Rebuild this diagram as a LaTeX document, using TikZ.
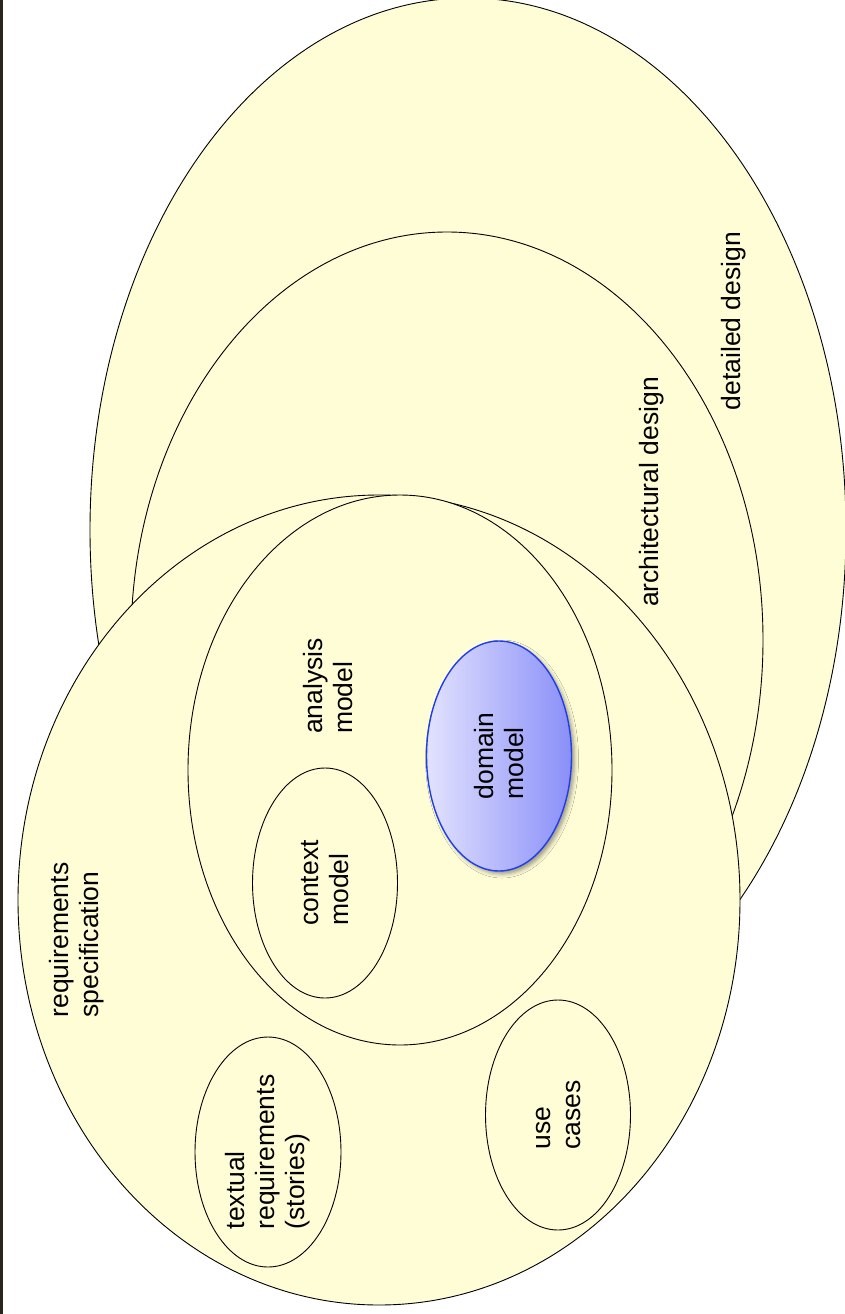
\documentclass[tikz,border=0pt]{standalone}
\usepackage{fontspec}
\setmainfont{Liberation Sans}
\usepackage{tikz}
\usetikzlibrary{shapes.geometric, shadows.blur}

\definecolor{pale}{HTML}{FFFDD6}
\definecolor{edgedark}{HTML}{2A241E}
\definecolor{domainlight}{HTML}{E2E2FE}
\definecolor{domaindark}{HTML}{8A8FF8}
\definecolor{domainline}{HTML}{1E3CF0}

\begin{document}
\begin{tikzpicture}[
    x=1pt, y=-1pt,
    font=\fontsize{26.5}{30}\selectfont,
    region/.style={draw, ellipse, fill=pale, line width=0.9pt, inner sep=0pt},
    item/.style={region, rotate=90, align=left, minimum width=230, minimum height=145},
    caption/.style={rotate=90, align=left, inner sep=0pt}
]

    \useasboundingbox (0,0) rectangle (845,1314);
    \fill[white] (0,0) rectangle (845,1314);
    \clip (0,0) rectangle (845,1314);

    % Design ellipses, lying behind
    \node[region, minimum width=756, minimum height=1064] (detailed) at (468,530) {};
    \node[region, minimum width=632, minimum height=816] (arch) at (447,640) {};

    % Requirements specification and analysis model
    \node[region, minimum width=722, minimum height=810] (reqspec) at (379,900) {};
    \node[region, minimum width=424, minimum height=550] (analysis) at (400,770) {};

    % Smaller models
    \node[item] (context) at (325,883) {context\\model};
    \node[item, draw=domainline, line width=1.4pt,
          left color=domainlight, right color=domaindark,
          blur shadow={shadow xshift=3pt, shadow yshift=-3pt, shadow blur radius=4pt, shadow opacity=40}]
          (domain) at (499,756) {domain\\model};
    \node[item, minimum height=146] (textual) at (268,1152) {textual\\requirements\\(stories)};
    \node[item] (usecases) at (558,1115) {use\\cases};

    % Captions of the big ellipses
    \node[caption] (detailedlbl) at (734,321) {detailed design};
    \node[caption] (archlbl) at (652,492) {architectural design};
    \node[caption] (analysislbl) at (328,686) {analysis\\model};
    \node[caption] (reqlbl) at (77,940) {requirements\\specification};

    % Slide edge
    \fill[edgedark] (0,0) rectangle (2.5,1314);

\end{tikzpicture}
\end{document}
